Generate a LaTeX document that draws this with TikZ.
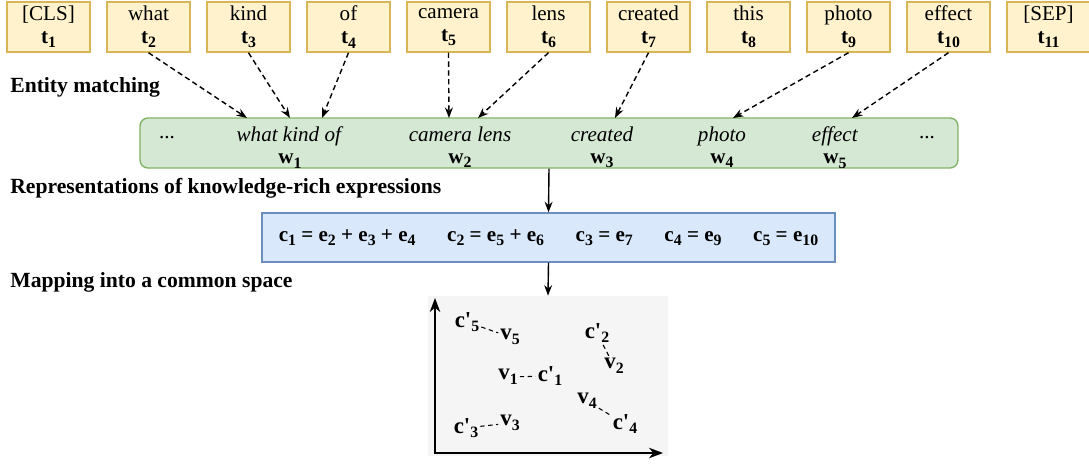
\documentclass[tikz,border=0pt]{standalone}
\usepackage{fontspec}
\setmainfont{Liberation Serif}
\usetikzlibrary{arrows.meta,calc}
\definecolor{tokfill}{HTML}{FFF2CC}
\definecolor{tokline}{HTML}{D6B656}
\definecolor{seqfill}{HTML}{D5E8D4}
\definecolor{seqline}{HTML}{82B366}
\definecolor{expfill}{HTML}{DAE8FC}
\definecolor{expline}{HTML}{6C8EBF}
\definecolor{spacefill}{HTML}{F5F5F5}
\newcommand{\figfont}{\fontsize{12pt}{13pt}\selectfont}
\newcommand{\tsub}[1]{\raisebox{-0.45ex}{\fontsize{9pt}{10pt}\selectfont #1}}
\newcommand{\cp}{c\textquotesingle}
\tikzset{
    tokbox/.style = {draw=tokline, fill=tokfill, rectangle, line width=0.8pt,
        minimum height=1cm, minimum width=1.66cm, align=center, inner sep=0pt},
    seqbox/.style = {draw=seqline, fill=seqfill, rounded corners=0.16cm, line width=0.8pt,
        minimum height=1cm, minimum width=16.36cm},
    expbox/.style = {draw=expline, fill=expfill, line width=0.8pt,
        minimum height=0.98cm, minimum width=11.46cm},
    wordlbl/.style = {align=center, inner sep=0pt, font=\fontsize{12pt}{12.5pt}\selectfont},
    steplbl/.style = {anchor=west, inner sep=0pt, font=\fontsize{12.3pt}{13pt}\selectfont\bfseries},
    pointlbl/.style = {inner sep=1pt, font=\fontsize{13pt}{14pt}\selectfont\bfseries},
    matcharrow/.style = {draw, dashed, dash pattern=on 3pt off 2pt, line width=0.8pt, ->},
    flowarrow/.style = {draw, line width=0.8pt, ->},
    pairline/.style = {draw, dashed, dash pattern=on 2.5pt off 2pt, line width=0.6pt}
}

\begin{document}
\begin{tikzpicture}[node distance=2cm, font=\figfont, >={Stealth[length=6pt,inset=2pt]}]
    \useasboundingbox (0,0) rectangle (21.78,-9.26);
    \node [tokbox] (t1) at (0.97,-0.54) {[CLS]\\\textbf{t\tsub{1}}};
    \node [tokbox, right of=t1] (t2) {what\\\textbf{t\tsub{2}}};
    \node [tokbox, right of=t2] (t3) {kind\\\textbf{t\tsub{3}}};
    \node [tokbox, right of=t3] (t4) {of\\\textbf{t\tsub{4}}};
    \node [tokbox, right of=t4] (t5) {camera\\\textbf{t\tsub{5}}};
    \node [tokbox, right of=t5] (t6) {lens\\\textbf{t\tsub{6}}};
    \node [tokbox, right of=t6] (t7) {created\\\textbf{t\tsub{7}}};
    \node [tokbox, right of=t7] (t8) {this\\\textbf{t\tsub{8}}};
    \node [tokbox, right of=t8] (t9) {photo\\\textbf{t\tsub{9}}};
    \node [tokbox, right of=t9] (t10) {effect\\\textbf{t\tsub{10}}};
    \node [tokbox, right of=t10] (t11) {[SEP]\\\textbf{t\tsub{11}}};

    \node [steplbl] (lmatch) at (0.2,-1.74) {Entity matching};
    \node [seqbox] (seq) at (10.98,-2.86) {};
    \node [wordlbl] (dl) at (3.34,-2.76) {...};
    \node [wordlbl] (w1) at (5.8,-2.95) {\textit{what kind of}\\\textbf{w\tsub{1}}};
    \node [wordlbl] (w2) at (9.2,-2.95) {\textit{camera lens}\\\textbf{w\tsub{2}}};
    \node [wordlbl] (w3) at (12.04,-2.95) {\textit{created}\\\textbf{w\tsub{3}}};
    \node [wordlbl] (w4) at (14.44,-2.95) {\textit{photo}\\\textbf{w\tsub{4}}};
    \node [wordlbl] (w5) at (16.7,-2.95) {\textit{effect}\\\textbf{w\tsub{5}}};
    \node [wordlbl] (dr) at (18.54,-2.76) {...};

    \coordinate (m2) at (4.94,-2.36);
    \coordinate (m3) at (5.8,-2.36);
    \coordinate (m4) at (6.44,-2.36);
    \coordinate (m5) at (8.98,-2.36);
    \coordinate (m6) at (9.56,-2.36);
    \coordinate (m7) at (12.3,-2.36);
    \coordinate (m9) at (14.66,-2.36);
    \coordinate (m10) at (17.04,-2.36);
    \draw [matcharrow] (t2.south) -- (m2);
    \draw [matcharrow] (t3.south) -- (m3);
    \draw [matcharrow] (t4.south) -- (m4);
    \draw [matcharrow] (t5.south) -- (m5);
    \draw [matcharrow] (t6.south) -- (m6);
    \draw [matcharrow] (t7.south) -- (m7);
    \draw [matcharrow] (t9.south) -- (m9);
    \draw [matcharrow] (t10.south) -- (m10);

    \node [steplbl] (lrep) at (0.2,-3.76) {Representations of knowledge-rich expressions};
    \node [expbox] (expr) at (10.97,-4.75) {\textbf{c\tsub{1} = e\tsub{2} + e\tsub{3} + e\tsub{4}\hspace{1.5em}c\tsub{2} = e\tsub{5} + e\tsub{6}\hspace{1.5em}c\tsub{3} = e\tsub{7}\hspace{1.5em}c\tsub{4} = e\tsub{9}\hspace{1.5em}c\tsub{5} = e\tsub{10}}};
    \draw [flowarrow] (seq.south) -- (expr.north);

    \node [steplbl] (lmap) at (0.2,-5.64) {Mapping into a common space};
    \node [fill=spacefill, minimum width=4.8cm, minimum height=3.2cm, inner sep=0pt] (space) at (10.96,-7.52) {};
    \draw [flowarrow] (expr.south) -- (space.north);
    \coordinate (org) at (8.7,-9.06);
    \coordinate (ytop) at (8.7,-5.96);
    \coordinate (xend) at (13.26,-9.06);
    \draw [line width=0.9pt, {Stealth[length=8pt,inset=2.5pt]}-{Stealth[length=8pt,inset=2.5pt]}] (ytop) -- (org) -- (xend);

    \node [pointlbl] (c5) at (9.34,-6.44) {\cp\tsub{5}};
    \node [pointlbl] (v5) at (10.2,-6.74) {v\tsub{5}};
    \node [pointlbl] (c2) at (11.94,-6.66) {\cp\tsub{2}};
    \node [pointlbl] (v2) at (12.28,-7.32) {v\tsub{2}};
    \node [pointlbl] (v1) at (10.16,-7.54) {v\tsub{1}};
    \node [pointlbl] (c1) at (11.0,-7.52) {\cp\tsub{1}};
    \node [pointlbl] (v4) at (11.74,-8.02) {v\tsub{4}};
    \node [pointlbl] (c4) at (12.5,-8.48) {\cp\tsub{4}};
    \node [pointlbl] (c3) at (9.32,-8.56) {\cp\tsub{3}};
    \node [pointlbl] (v3) at (10.2,-8.46) {v\tsub{3}};
    \draw [pairline] (c5) -- (v5);
    \draw [pairline] (c2) -- (v2);
    \draw [pairline] (v1) -- (c1);
    \draw [pairline] (v4) -- (c4);
    \draw [pairline] (c3) -- (v3);
\end{tikzpicture}
\end{document}
